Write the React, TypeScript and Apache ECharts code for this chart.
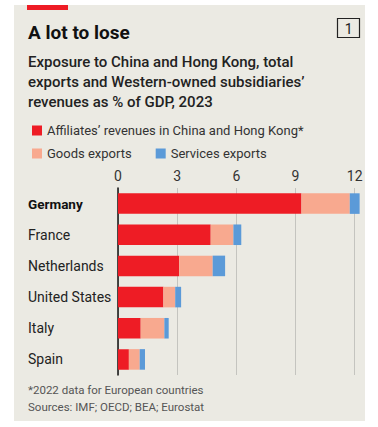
import React, { useEffect, useRef } from "react";
import * as echarts from "echarts";

const countries = ["Germany", "France", "Netherlands", "United States", "Italy", "Spain"];
const affiliates = [9.3, 4.7, 3.1, 2.3, 1.15, 0.55];
const goods = [2.45, 1.15, 1.7, 0.6, 1.2, 0.55];
const services = [0.5, 0.4, 0.63, 0.3, 0.22, 0.27];
const xTicks = [0, 3, 6, 9, 12];

const FONT = "Roboto, 'Noto Sans', sans-serif";
const RED = "#ee1c25";
const PINK = "#f8a98f";
const BLUE = "#5b9ad8";

export default function App() {
  const ref = useRef<HTMLDivElement>(null);
  useEffect(() => {
    const chart = echarts.init(ref.current!, null, { renderer: "svg" });
    chart.setOption({
      animation: false,
      backgroundColor: "#ffffff",
      textStyle: { fontFamily: FONT },
      graphic: [
        { type: "rect", z: -10, shape: { x: 14, y: 5, width: 351, height: 416 }, style: { fill: "#ebeae3" } },
        { type: "rect", shape: { x: 27, y: 5, width: 41, height: 5 }, style: { fill: RED } },
        { type: "text", x: 28, y: 32, style: { text: "A lot to lose", font: `bold 19px ${FONT}`, fill: "#111", verticalAlign: "middle" } },
        { type: "rect", shape: { x: 337.5, y: 18.5, width: 22, height: 19 }, style: { fill: "none", stroke: "#222", lineWidth: 1.2 } },
        { type: "text", x: 348.7, y: 28.5, style: { text: "1", font: `14px ${FONT}`, fill: "#222", align: "center", verticalAlign: "middle" } },
        {
          type: "text", x: 28, y: 52,
          style: {
            text: "Exposure to China and Hong Kong, total\nexports and Western-owned subsidiaries’\nrevenues as % of GDP, 2023",
            font: `500 15px ${FONT}`, fill: "#222", lineHeight: 20,
          },
        },
        {
          type: "text", x: 28, y: 381,
          style: {
            text: "*2022 data for European countries\nSources: IMF; OECD; BEA; Eurostat",
            font: `11.5px ${FONT}`, fill: "#555", lineHeight: 17,
          },
        },
      ],
      legend: [
        {
          left: 27, top: 119, icon: "rect", itemWidth: 10, itemHeight: 10, itemGap: 20,
          textStyle: { fontSize: 13, color: "#333", fontFamily: FONT },
          data: ["Affiliates’ revenues in China and Hong Kong*"],
        },
        {
          left: 27, top: 142, icon: "rect", itemWidth: 10, itemHeight: 10, itemGap: 24,
          textStyle: { fontSize: 13, color: "#333", fontFamily: FONT },
          data: ["Goods exports", "Services exports"],
        },
      ],
      grid: { left: 118, right: 23.3, top: 188, height: 187, containLabel: false },
      xAxis: {
        type: "value", position: "top", min: 0, max: 12, interval: 3,
        axisLine: { show: false }, axisTick: { show: false },
        splitLine: { lineStyle: { color: "#c4c4bf", width: 1 } },
        axisLabel: {
          margin: 5, fontSize: 14, color: "#333", fontFamily: FONT,
          formatter: (v: number) => (xTicks.includes(v) ? String(v) : ""),
        },
      },
      yAxis: {
        type: "category", data: countries, inverse: true,
        axisLine: { show: true, lineStyle: { color: "#111", width: 1.5 } },
        axisTick: { show: false },
        axisLabel: {
          margin: 90, align: "left", fontSize: 14, color: "#222", fontFamily: FONT,
          formatter: (v: string) => (v === "Germany" ? `{b|${v}}` : v),
          rich: { b: { fontWeight: "bold", fontSize: 13.5, color: "#111", fontFamily: FONT } },
        },
      },
      series: [
        { name: "Affiliates’ revenues in China and Hong Kong*", type: "bar", stack: "t", clip: false, data: affiliates, itemStyle: { color: RED }, barCategoryGap: "34%" },
        { name: "Goods exports", type: "bar", stack: "t", clip: false, data: goods, itemStyle: { color: PINK } },
        { name: "Services exports", type: "bar", stack: "t", clip: false, data: services, itemStyle: { color: BLUE } },
      ],
    });
    return () => chart.dispose();
  }, []);
  return <div ref={ref} style={{ position: "fixed", left: 0, top: 0, width: 378, height: 427 }} />;
}
